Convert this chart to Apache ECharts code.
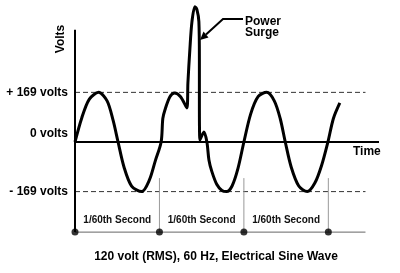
<!DOCTYPE html>
<html>
<head>
<meta charset="utf-8">
<script src="https://cdn.jsdelivr.net/npm/echarts@6/dist/echarts.min.js"></script>
<style>html,body{margin:0;padding:0;background:#fff;}#c{width:400px;height:273px;}</style>
</head>
<body>
<div id="c"></div>
<script>
// x in periods (1 unit = 1/60th second), y in volts
var waveX = [0, 0.08, 0.17, 0.28, 0.38, 0.45, 0.51, 0.58, 0.67, 0.79, 0.88, 0.95, 1.02,
  1.04, 1.065, 1.124, 1.18, 1.25, 1.325, 1.337, 1.36, 1.385, 1.42, 1.444, 1.467, 1.473, 1.473, 1.479,
  1.527, 1.562, 1.586, 1.62, 1.68, 1.74, 1.795, 1.86, 1.93, 2.0,
  2.08, 2.17, 2.27, 2.36, 2.43, 2.49, 2.56, 2.65, 2.75, 2.84, 2.92, 2.995, 3.06, 3.136];
var waveY = [0, 82, 146, 169, 140, 75, 0, -85, -150, -169, -130, -65, 0,
  80, 109, 154, 167, 154, 116, 201, 314, 410, 461, 451, 410, 280, 143, 7,
  34, 0, -61, -100, -145, -165, -169, -150, -90, 0,
  95, 155, 169, 140, 80, 0, -85, -150, -169, -140, -80, 0, 80, 133];
var peakVolts = 169;
var yTickValues = [-169, 0, 169];
var yTickLabels = ['- 169 volts', '0 volts', '+ 169 volts'];
var periodMarks = [0, 1, 2, 3];
var periodLabels = ['1/60th Second', '1/60th Second', '1/60th Second'];
var xEnd = 3.6, refEnd = 3.44;
var axisTop = 382, baseLine = -307, tickTop = -123, periodLabelY = -268;

var FONT = '"Liberation Sans", Arial, sans-serif';
function seg(data, color, width, type, z) {
  return {type: 'line', data: data, symbol: 'none', silent: true, z: z || 2,
    lineStyle: {color: color, width: width, type: type || 'solid'}, animation: false};
}
var series = [];
series.push(seg([[0, peakVolts], [refEnd, peakVolts]], '#333', 1, [5, 3]));
series.push(seg([[0, -peakVolts], [refEnd, -peakVolts]], '#333', 1, [5, 3]));
series.push(seg([[0, 0], [xEnd, 0]], '#000', 2, 'solid', 3));
series.push(seg([[0, axisTop], [0, baseLine]], '#000', 2, 'solid', 3));
series.push(seg([[0, baseLine], [refEnd, baseLine]], '#666', 1));
periodMarks.slice(1).forEach(function (p) {
  series.push(seg([[p, tickTop], [p, baseLine]], '#999', 1));
});
series.push({type: 'scatter', data: periodMarks.map(function (p) { return [p, baseLine]; }),
  symbolSize: 7, itemStyle: {color: '#000'}, z: 5, silent: true, animation: false});
series.push({type: 'scatter', symbolSize: 0, silent: true, animation: false,
  data: periodLabels.map(function (t, i) { return {value: [periodMarks[i] + 0.5, periodLabelY], name: t}; }),
  label: {show: true, position: 'inside', formatter: function (p) { return p.name; },
    fontFamily: FONT, fontWeight: 'bold', fontSize: 10, color: '#111', opacity: 1}});
series.push({type: 'line', data: waveX.map(function (x, i) { return [x, waveY[i]]; }),
  symbol: 'none', smooth: 0.3, z: 4, silent: true, animation: false,
  lineStyle: {color: '#000', width: 3}});

var chart = echarts.init(document.getElementById('c'), null, {renderer: 'canvas'});
chart.setOption({
  backgroundColor: '#fff',
  animation: false,
  grid: {left: 75, top: 4, width: 304, height: 229},
  xAxis: {type: 'value', min: 0, max: xEnd, show: false},
  yAxis: {type: 'value', min: -310, max: 470,
    axisLine: {show: false}, axisTick: {show: false}, splitLine: {show: false},
    axisLabel: {customValues: yTickValues, margin: 7,
      formatter: function (v) {
        var i = yTickValues.indexOf(v);
        return v === 0 ? '{up|' + yTickLabels[i] + '}' : '{n|' + yTickLabels[i] + '}';
      },
      rich: {
        n: {fontFamily: FONT, fontWeight: 'bold', fontSize: 12, color: '#000'},
        up: {fontFamily: FONT, fontWeight: 'bold', fontSize: 12, color: '#000', padding: [0, 0, 16, 0]}
      }}},
  series: series,
  graphic: [
    {type: 'text', x: 61, y: 39, rotation: Math.PI / 2,
      style: {text: 'Volts', font: 'bold 12px ' + FONT, fill: '#000', align: 'center', verticalAlign: 'middle'}},
    {type: 'text', x: 353, y: 152,
      style: {text: 'Time', font: 'bold 12px ' + FONT, fill: '#000', align: 'left', verticalAlign: 'middle'}},
    {type: 'text', x: 245, y: 22,
      style: {text: 'Power', font: 'bold 12px ' + FONT, fill: '#000', align: 'left', verticalAlign: 'middle'}},
    {type: 'text', x: 245, y: 33,
      style: {text: 'Surge', font: 'bold 12px ' + FONT, fill: '#000', align: 'left', verticalAlign: 'middle'}},
    {type: 'polyline', shape: {points: [[243, 19], [223, 19], [206, 34.6]]},
      style: {stroke: '#000', lineWidth: 2, fill: null}},
    {type: 'polygon', shape: {points: [[200, 40], [208.5, 37.5], [203.5, 31.5]]},
      style: {fill: '#000'}},
    {type: 'text', x: 216, y: 257,
      style: {text: '120 volt (RMS), 60 Hz, Electrical Sine Wave', font: 'bold 12px ' + FONT, fill: '#000', align: 'center', verticalAlign: 'middle'}}
  ]
});
</script>
</body>
</html>
